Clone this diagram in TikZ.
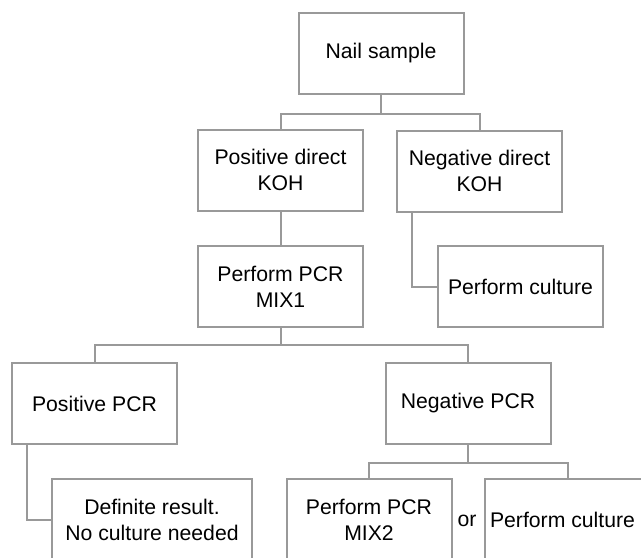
\documentclass[tikz,border=0pt]{standalone}
\usepackage{fontspec}
\setmainfont{Liberation Sans}
\definecolor{linegray}{gray}{0.6}

\begin{document}
\begin{tikzpicture}[x=0.5pt,y=-0.5pt,line width=1pt,draw=linegray]
            \clip (0,0) rectangle (641,557);
            \begin{scope}[every node/.style={rectangle,draw=linegray,line width=1pt,fill=white,align=center,
                    minimum width=82.5pt,minimum height=40.5pt,inner sep=0pt,
                    font=\fontsize{10.6}{13}\selectfont}]
                \node (nail) at (381,53) {Nail sample};
                \node (posKOH) at (280.5,170) {Positive direct\\KOH};
                \node (negKOH) at (479.5,171) {Negative direct\\KOH};
                \node (mix1) at (280.5,286.5) {Perform PCR\\MIX1};
                \node (culture1) at (520.5,286.5) {Perform culture};
                \node (posPCR) at (94.5,403.5) {Positive PCR};
                \node (negPCR) at (468,403.5) {Negative PCR};
                \node[minimum width=100pt] (definite) at (152,519.5) {Definite result.\\No culture needed};
                \node (mix2) at (369,519.5) {Perform PCR\\MIX2};
                \node (culture2) at (567.5,519.5) {Perform culture\hspace*{5pt}};
            \end{scope}
            \node[font=\fontsize{10.6}{13}\selectfont] (or) at (467,521) {or};
            \draw (nail.south) -- ++(0,19) -| (posKOH.north);
            \draw (nail.south) -- ++(0,19) -| (negKOH.north);
            \draw (posKOH.south) -- (mix1.north);
            \draw ([xshift=8pt]negKOH.south west) |- (culture1.west);
            \draw (mix1.south) -- ++(0,17) -| (posPCR.north);
            \draw (mix1.south) -- ++(0,17) -| (negPCR.north);
            \draw ([xshift=8pt]posPCR.south west) |- (definite.west);
            \draw (negPCR.south) -- ++(0,18) -| (mix2.north);
            \draw (negPCR.south) -- ++(0,18) -| (culture2.north);
        \end{tikzpicture}
\end{document}
